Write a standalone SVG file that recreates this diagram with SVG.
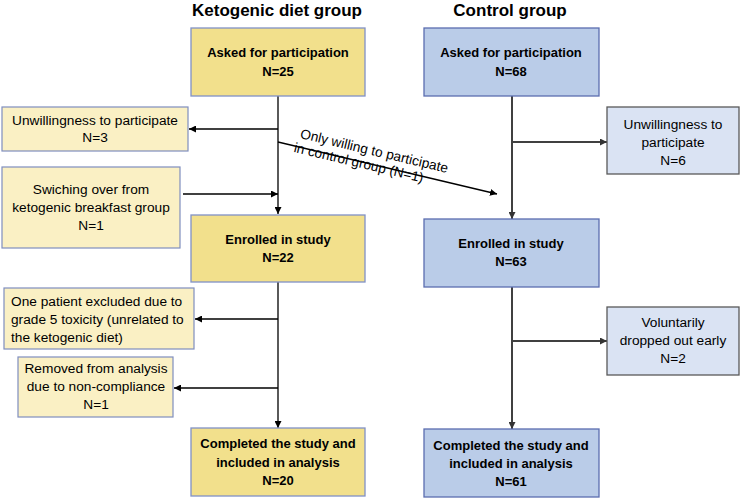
<svg xmlns="http://www.w3.org/2000/svg" width="740" height="499" viewBox="0 0 740 499">
<defs>
<marker id="ak" viewBox="0 0 10 10" refX="10" refY="5" markerWidth="7" markerHeight="7" markerUnits="userSpaceOnUse" orient="auto"><path d="M0,0 L10,5 L0,10 z" fill="#000"/></marker>
<marker id="ag" viewBox="0 0 10 10" refX="10" refY="5" markerWidth="7" markerHeight="7" markerUnits="userSpaceOnUse" orient="auto"><path d="M0,0 L10,5 L0,10 z" fill="#333"/></marker>
<style>
text{font-family:"Liberation Sans",Arial,sans-serif;font-size:13.7px;fill:#000;text-anchor:middle}
.b{font-weight:bold;font-size:13px}
.t{font-weight:bold;font-size:17px}
.ky{fill:#F2E08C;stroke:#8091C6;stroke-width:1.3}
.ly{fill:#FAF0C4;stroke:#7F8EBF;stroke-width:1.2}
.kb{fill:#BACCE8;stroke:#5B6DB0;stroke-width:1.3}
.lb{fill:#DAE3F3;stroke:#595959;stroke-width:1.3}
.ck{stroke:#000;stroke-width:1.3;fill:none}
.cg{stroke:#404040;stroke-width:2;fill:none}
.l{text-anchor:start}
</style>
</defs>
<text class="t" x="277" y="16">Ketogenic diet group</text>
<text class="t" x="510" y="16">Control group</text>
<g id="connectors">
<line class="ck" x1="278" y1="96" x2="278" y2="214" marker-end="url(#ak)"/>
<line class="ck" x1="278" y1="129" x2="189" y2="129" marker-end="url(#ak)"/>
<line class="ck" x1="183" y1="194" x2="278" y2="194" marker-end="url(#ak)"/>
<line class="ck" x1="278" y1="142" x2="497" y2="194" marker-end="url(#ak)"/>
<line class="ck" x1="278" y1="282" x2="278" y2="428" marker-end="url(#ak)"/>
<line class="ck" x1="278" y1="319" x2="195" y2="319" marker-end="url(#ak)"/>
<line class="ck" x1="278" y1="388" x2="174" y2="388" marker-end="url(#ak)"/>
<line class="cg" x1="512" y1="96" x2="512" y2="219" marker-end="url(#ag)"/>
<line class="cg" x1="512" y1="142" x2="607" y2="142" marker-end="url(#ag)"/>
<line class="cg" x1="512" y1="287" x2="512" y2="429" marker-end="url(#ag)"/>
<line class="cg" x1="512" y1="341" x2="607" y2="341" marker-end="url(#ag)"/>
<g transform="translate(278,142) rotate(13.4)">
<text class="l" x="20" y="-9">Only willing to participate</text>
<text class="l" x="17" y="6">in control group (N=1)</text>
</g>
</g>
<g id="k-asked"><rect class="ky" x="191" y="28" width="174" height="68"/><text class="b" x="278" y="57">Asked for participation</text><text class="b" x="278" y="76">N=25</text></g>
<g id="k-unwilling"><rect class="ly" x="2" y="107" width="186" height="44"/><text x="95" y="125">Unwillingness to participate</text><text x="95" y="142">N=3</text></g>
<g id="k-switch"><rect class="ly" x="2" y="167" width="178" height="81"/><text x="91" y="194">Swiching over from</text><text x="91" y="212">ketogenic breakfast group</text><text x="91" y="230">N=1</text></g>
<g id="k-enrolled"><rect class="ky" x="191" y="215" width="174" height="67"/><text class="b" x="278" y="244">Enrolled in study</text><text class="b" x="278" y="262">N=22</text></g>
<g id="k-excluded"><rect class="ly" x="4" y="288" width="190" height="61"/><text class="l" x="11" y="306">One patient excluded due to</text><text class="l" x="11" y="324">grade 5 toxicity (unrelated to</text><text class="l" x="11" y="342">the ketogenic diet)</text></g>
<g id="k-removed"><rect class="ly" x="18" y="357" width="155" height="60"/><text x="96" y="373">Removed from analysis</text><text x="96" y="391">due to non-compliance</text><text x="96" y="409">N=1</text></g>
<g id="k-completed"><rect class="ky" x="191" y="428" width="174" height="68"/><text class="b" x="278" y="448">Completed the study and</text><text class="b" x="278" y="467">included in analysis</text><text class="b" x="278" y="485">N=20</text></g>
<g id="c-asked"><rect class="kb" x="424" y="28" width="175" height="68"/><text class="b" x="511" y="57">Asked for participation</text><text class="b" x="511" y="76">N=68</text></g>
<g id="c-unwilling"><rect class="lb" x="607" y="107" width="132" height="67"/><text x="673" y="129">Unwillingness to</text><text x="673" y="147">participate</text><text x="673" y="165">N=6</text></g>
<g id="c-enrolled"><rect class="kb" x="424" y="219" width="175" height="68"/><text class="b" x="511" y="248">Enrolled in study</text><text class="b" x="511" y="266">N=63</text></g>
<g id="c-dropped"><rect class="lb" x="607" y="307" width="132" height="68"/><text x="673" y="327">Voluntarily</text><text x="673" y="345">dropped out early</text><text x="673" y="363">N=2</text></g>
<g id="c-completed"><rect class="kb" x="424" y="429" width="175" height="68"/><text class="b" x="511" y="450">Completed the study and</text><text class="b" x="511" y="468">included in analysis</text><text class="b" x="511" y="486">N=61</text></g>
</svg>
